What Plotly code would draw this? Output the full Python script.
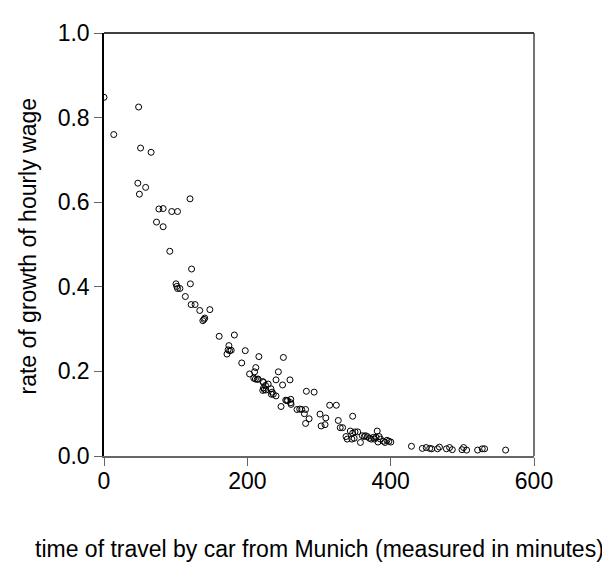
import plotly.graph_objects as go

travel_minutes = [
    0, 13.6, 48.3, 51, 65.7, 47.2, 49.4, 58.1, 120, 76.6, 82.5, 94.5, 102.6,
    73.3, 82.5, 91.8, 122.2, 120.5, 100.5, 101.6, 102.6, 105.9, 113.5, 121.6,
    127.1, 133.6, 147.7, 137.9, 139.5, 140.6, 160.7, 181.9, 174.3, 173.2,
    171.6, 175.4, 177.5, 197.1, 216.1, 250.3, 192.2, 211.8, 210.1, 203.1,
    209, 211.2, 213.9, 215, 243.3, 240, 259.5, 221.5, 222.6, 225.3, 229.1,
    222.6, 223.7, 221.5, 225.9, 232.9, 234.6, 233.5, 236.2, 240, 249.2,
    253.6, 255.2, 256.3, 260.6, 247, 260.6, 261, 269.3, 273.1, 275.8, 281.3,
    279.6, 281.3, 282.4, 293.2, 286.2, 301.4, 309.5, 303, 308.4, 314.9, 324.2,
    326.9, 329.6, 332.9, 347, 337.7, 339.4, 343.7, 345.9, 347, 349.1, 350.2,
    354, 357.8, 360.5, 363.2, 364.9, 367.6, 370.3, 373, 375.8, 377.4, 379.6,
    381.2, 382.3, 383.9, 385.6, 389.9, 392.1, 394.8, 397.5, 400.2, 429,
    444.2, 449.6, 454.5, 457.2, 465.3, 468.1, 477.8, 482.2, 486, 499.5,
    501.7, 506, 521.3, 527.8, 531.1, 560.4,
]
wage_growth = [
    0.848, 0.760, 0.825, 0.728, 0.718, 0.645, 0.619, 0.635, 0.608, 0.584,
    0.585, 0.578, 0.578, 0.553, 0.542, 0.484, 0.442, 0.407, 0.407, 0.401,
    0.396, 0.396, 0.377, 0.358, 0.358, 0.344, 0.346, 0.320, 0.323, 0.326,
    0.283, 0.286, 0.261, 0.251, 0.241, 0.249, 0.250, 0.249, 0.235, 0.233,
    0.220, 0.209, 0.199, 0.194, 0.184, 0.182, 0.181, 0.182, 0.199, 0.180,
    0.180, 0.176, 0.174, 0.167, 0.170, 0.161, 0.157, 0.155, 0.156, 0.159,
    0.151, 0.146, 0.146, 0.142, 0.168, 0.132, 0.131, 0.131, 0.134, 0.117,
    0.126, 0.122, 0.110, 0.111, 0.110, 0.110, 0.100, 0.077, 0.153, 0.151,
    0.088, 0.099, 0.090, 0.071, 0.074, 0.120, 0.120, 0.084, 0.067, 0.067,
    0.094, 0.046, 0.040, 0.059, 0.040, 0.054, 0.042, 0.057, 0.057, 0.032,
    0.048, 0.046, 0.048, 0.046, 0.042, 0.040, 0.044, 0.040, 0.044, 0.059,
    0.033, 0.046, 0.040, 0.035, 0.032, 0.037, 0.035, 0.033, 0.023, 0.018,
    0.020, 0.018, 0.017, 0.017, 0.021, 0.017, 0.020, 0.015, 0.015, 0.020,
    0.014, 0.014, 0.017, 0.017, 0.014,
]
x_ticks = [0, 200, 400, 600]
y_ticks = [0.0, 0.2, 0.4, 0.6, 0.8, 1.0]
y_tick_labels = ["0.0", "0.2", "0.4", "0.6", "0.8", "1.0"]
x_title = "time of travel by car from Munich (measured in minutes)"
y_title = "rate of growth of hourly wage"

font_family = "Liberation Sans, Arial, sans-serif"
fs = 23

fig = go.Figure()
fig.add_trace(go.Scatter(
    x=travel_minutes, y=wage_growth, mode="markers",
    marker=dict(symbol="circle-open", size=6, color="black",
                line=dict(width=1, color="black")),
    showlegend=False, hoverinfo="x+y",
))

fig.update_layout(
    width=610, height=563,
    margin=dict(l=96, r=84, t=18, b=115),
    paper_bgcolor="white", plot_bgcolor="white",
    font=dict(family=font_family, size=fs, color="black"),
    xaxis=dict(
        range=[0, 600], tickvals=x_ticks, ticks="outside", ticklen=8,
        tickcolor="#666666", tickwidth=1, showgrid=False, zeroline=False,
        showline=True, linecolor="#666666", linewidth=1.5,
        tickfont=dict(size=fs), ticklabelstandoff=-4,
    ),
    yaxis=dict(
        range=[0, 1.0], tickvals=y_ticks, ticktext=y_tick_labels,
        ticks="outside", ticklen=8, tickcolor="#666666", tickwidth=1,
        showgrid=False, zeroline=False, showline=True, linecolor="black",
        linewidth=1.5, tickfont=dict(size=fs), ticklabelstandoff=0,
    ),
    shapes=[
        dict(type="line", xref="paper", yref="paper", x0=0, x1=1, y0=1, y1=1,
             line=dict(color="black", width=1.5)),
        dict(type="line", xref="paper", yref="paper", x0=1, x1=1, y0=0, y1=1,
             line=dict(color="#444444", width=1.5)),
    ],
    annotations=[
        dict(text=x_title, xref="paper", yref="paper", x=0.5, y=0,
             yshift=-93, xshift=0, yanchor="middle", xanchor="center",
             showarrow=False, font=dict(size=fs)),
        dict(text=y_title, xref="paper", yref="paper", x=0, y=0.5,
             xshift=-77, yshift=-2, textangle=-90, xanchor="center",
             yanchor="middle", showarrow=False, font=dict(size=fs)),
    ],
)

fig.write_html("out.html")
